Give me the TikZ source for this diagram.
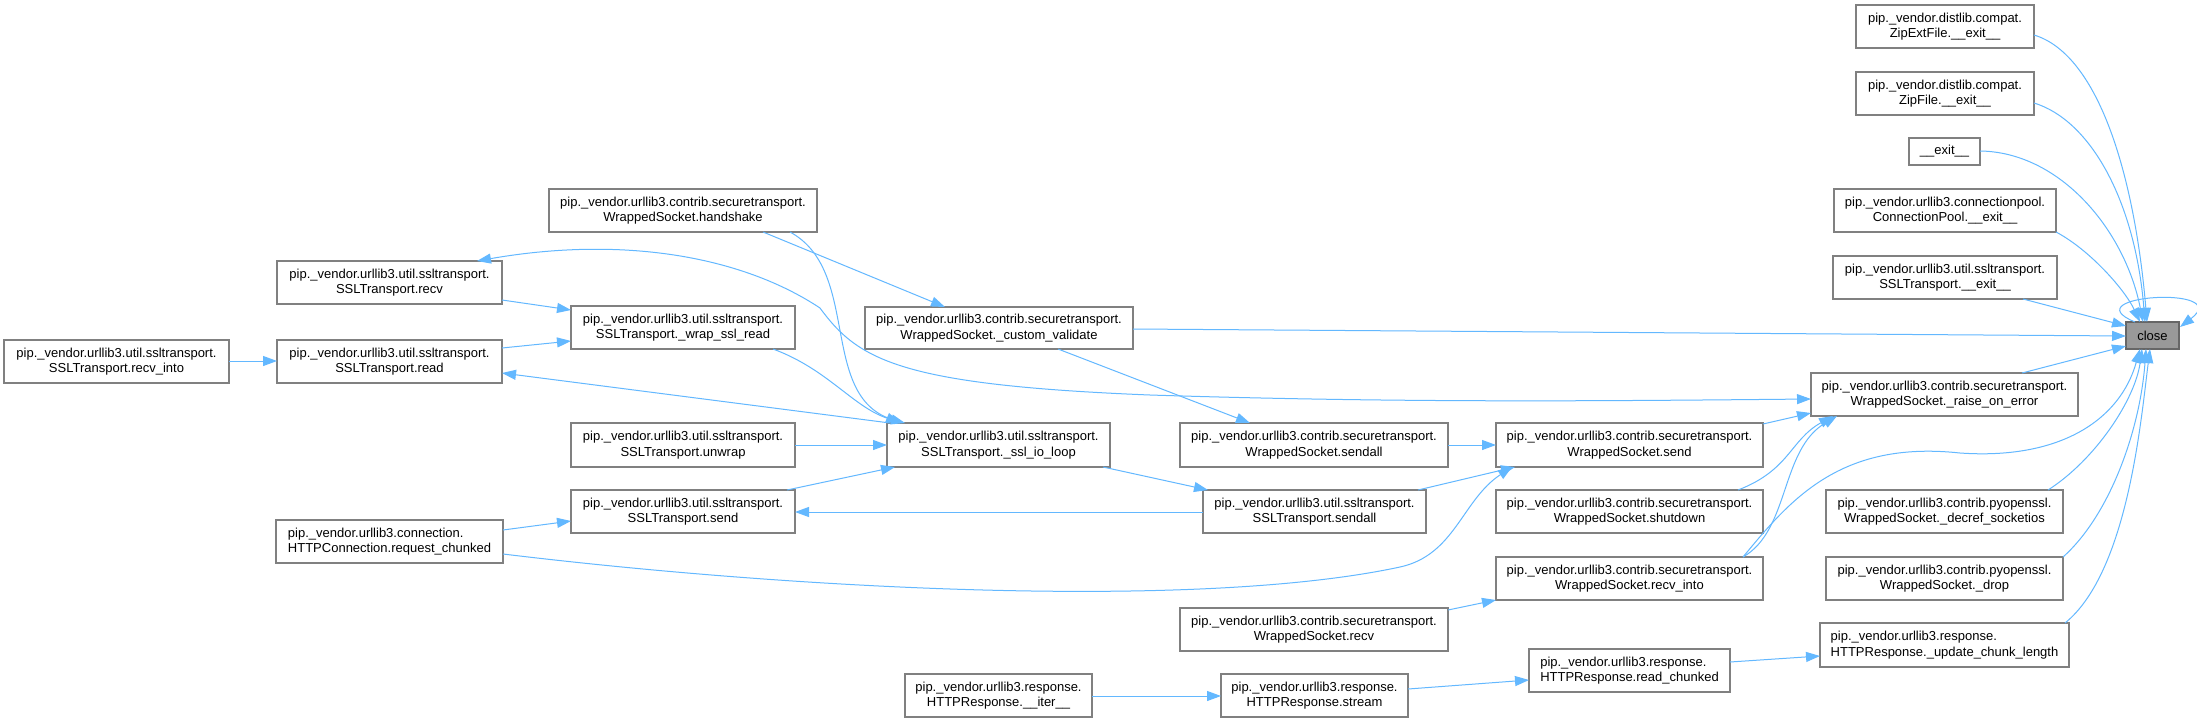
\documentclass[tikz,border=0pt]{standalone}
\usepackage{fontspec}
\setmainfont{Liberation Sans}
\usetikzlibrary{arrows.meta,calc}
\definecolor{edgec}{HTML}{63B8FF}
\definecolor{bordc}{HTML}{808080}
\definecolor{closefill}{HTML}{999999}
\definecolor{closebord}{HTML}{666666}
\tikzset{
  fnbox/.style={draw=bordc, line width=1.3pt, fill=white, rectangle, inner sep=0pt, outer sep=0pt,
    align=center, font=\fontsize{13}{15.7}\selectfont, text=black},
  leftbox/.style={fnbox, align=left},
  curbox/.style={fnbox, fill=closefill, draw=closebord},
  calledge/.style={draw=edgec, line width=1pt, -{Triangle[length=14pt,width=10pt]}},
  bothedge/.style={draw=edgec, line width=1pt, {Triangle[length=14pt,width=10pt]}-{Triangle[length=14pt,width=10pt]}},
}
\newcommand{\fn}[7][fnbox]{\node[#1, minimum width={#5-#3}, minimum height={#6-#4}, anchor=north west] (#2) at (#3,#4) {#7};}
\newcommand{\nw}[3]{($(#1.north west)+(#2,#3)$)}
\begin{document}
\begin{tikzpicture}[x=1pt,y=-1pt]
\fill[white] (0,0) rectangle (2197,723);
\useasboundingbox (0,0) rectangle (2197,723);
% nodes
\fn[curbox]{close}{2126}{322}{2179}{349}{close}
\fn{zipext}{1856}{5}{2034}{48}{pip.\_vendor.distlib.compat.\\ZipExtFile.\_\_exit\_\_}
\fn{zipfile}{1856}{72}{2034}{115}{pip.\_vendor.distlib.compat.\\ZipFile.\_\_exit\_\_}
\fn{exit}{1909}{138}{1980}{165}{\_\_exit\_\_}
\fn{cpool}{1834}{189}{2056}{232}{pip.\_vendor.urllib3.connectionpool.\\ConnectionPool.\_\_exit\_\_}
\fn{sslexit}{1833}{256}{2057}{299}{pip.\_vendor.urllib3.util.ssltransport.\\SSLTransport.\_\_exit\_\_}
\fn{raise}{1811}{373}{2078}{416}{pip.\_vendor.urllib3.contrib.securetransport.\\WrappedSocket.\_raise\_on\_error}
\fn{decref}{1826}{490}{2063}{533}{pip.\_vendor.urllib3.contrib.pyopenssl.\\WrappedSocket.\_decref\_socketios}
\fn{drop}{1826}{557}{2063}{600}{pip.\_vendor.urllib3.contrib.pyopenssl.\\WrappedSocket.\_drop}
\fn[leftbox]{update}{1820}{623}{2069}{667}{pip.\_vendor.urllib3.response.\\HTTPResponse.\_update\_chunk\_length}
\fn{customval}{865}{307}{1133}{349}{pip.\_vendor.urllib3.contrib.securetransport.\\WrappedSocket.\_custom\_validate}
\fn{wsend}{1496}{423}{1763}{467}{pip.\_vendor.urllib3.contrib.securetransport.\\WrappedSocket.send}
\fn{shutdown}{1496}{490}{1763}{533}{pip.\_vendor.urllib3.contrib.securetransport.\\WrappedSocket.shutdown}
\fn{wrecvinto}{1496}{557}{1763}{600}{pip.\_vendor.urllib3.contrib.securetransport.\\WrappedSocket.recv\_into}
\fn{wsendall}{1180}{423}{1448}{467}{pip.\_vendor.urllib3.contrib.securetransport.\\WrappedSocket.sendall}
\fn{ssendall}{1203}{490}{1426}{533}{pip.\_vendor.urllib3.util.ssltransport.\\SSLTransport.sendall}
\fn{wrecv}{1180}{608}{1448}{651}{pip.\_vendor.urllib3.contrib.securetransport.\\WrappedSocket.recv}
\fn[leftbox]{readchunked}{1529}{649}{1730}{692}{pip.\_vendor.urllib3.response.\\HTTPResponse.read\_chunked}
\fn{stream}{1221}{674}{1408}{717}{pip.\_vendor.urllib3.response.\\HTTPResponse.stream}
\fn{iter}{905}{674}{1092}{717}{pip.\_vendor.urllib3.response.\\HTTPResponse.\_\_iter\_\_}
\fn{sslio}{887}{423}{1110}{467}{pip.\_vendor.urllib3.util.ssltransport.\\SSLTransport.\_ssl\_io\_loop}
\fn{handshake}{549}{189}{817}{232}{pip.\_vendor.urllib3.contrib.securetransport.\\WrappedSocket.handshake}
\fn{wrapssl}{571}{306}{795}{349}{pip.\_vendor.urllib3.util.ssltransport.\\SSLTransport.\_wrap\_ssl\_read}
\fn{recv}{277}{261}{502}{304}{pip.\_vendor.urllib3.util.ssltransport.\\SSLTransport.recv}
\fn{read}{277}{340}{502}{383}{pip.\_vendor.urllib3.util.ssltransport.\\SSLTransport.read}
\fn{recvinto}{4}{340}{229}{383}{pip.\_vendor.urllib3.util.ssltransport.\\SSLTransport.recv\_into}
\fn{unwrap}{571}{423}{795}{467}{pip.\_vendor.urllib3.util.ssltransport.\\SSLTransport.unwrap}
\fn{ssend}{571}{490}{795}{533}{pip.\_vendor.urllib3.util.ssltransport.\\SSLTransport.send}
\fn[leftbox]{reqchunked}{276}{520}{503}{563}{pip.\_vendor.urllib3.connection.\\HTTPConnection.request\_chunked}
% edges into close
\draw[calledge] \nw{zipext}{178}{30} .. controls (2100,55) and (2135,180) .. \nw{close}{21}{0};
\draw[calledge] \nw{zipfile}{178}{31} .. controls (2090,120) and (2135,200) .. \nw{close}{19}{0};
\draw[calledge] \nw{exit}{71}{13} .. controls (2060,152) and (2125,230) .. \nw{close}{17}{0};
\draw[calledge] \nw{cpool}{222}{43} .. controls (2090,250) and (2125,290) .. \nw{close}{14}{0};
\draw[calledge] \nw{sslexit}{190}{43} -- \nw{close}{0}{4};
\draw[calledge] \nw{close}{9}{0} .. controls (2070,295) and (2235,285) .. \nw{close}{54}{5};
\draw[calledge] \nw{customval}{268}{22} -- \nw{close}{0}{14};
\draw[calledge] \nw{raise}{211}{0} -- \nw{close}{0}{24};
\draw[calledge] \nw{decref}{222}{0} .. controls (2095,460) and (2135,400) .. \nw{close}{16}{27};
\draw[calledge] \nw{drop}{237}{0} .. controls (2110,515) and (2140,430) .. \nw{close}{20}{27};
\draw[calledge] \nw{update}{245}{0} .. controls (2128,572) and (2141,419) .. \nw{close}{24}{27};
\draw[calledge] \nw{wrecvinto}{247}{0} .. controls (1790,500) and (1840,440) .. (1960,453)
   .. controls (2060,460) and (2120,420) .. \nw{close}{14}{27};
% recv <-> raise
\draw[bothedge] \nw{recv}{200}{0} .. controls (620,236) and (740,255) .. (820,308)
   .. controls (858,360) and (900,385) .. (1150,395)
   .. controls (1400,403) and (1600,401) .. \nw{raise}{0}{26};
% left part
\draw[calledge] \nw{handshake}{214}{43} -- \nw{customval}{80}{0};
\draw[calledge] \nw{handshake}{241}{43} .. controls (860,270) and (820,390) .. \nw{sslio}{13}{0};
\draw[calledge] \nw{wrapssl}{202}{43} .. controls (830,370) and (855,410) .. \nw{sslio}{18}{0};
\draw[calledge] \nw{sslio}{3}{0} -- \nw{read}{225}{33};
\draw[calledge] \nw{recv}{225}{39} -- \nw{wrapssl}{0}{4};
\draw[calledge] \nw{read}{225}{8} -- \nw{wrapssl}{0}{35};
\draw[calledge] \nw{recvinto}{225}{21} -- \nw{read}{0}{21};
\draw[calledge] \nw{unwrap}{224}{22} -- \nw{sslio}{0}{22};
\draw[calledge] \nw{ssend}{216}{0} -- \nw{sslio}{8}{44};
\draw[calledge] \nw{sslio}{216}{44} -- \nw{ssendall}{5}{0};
\draw[calledge] \nw{customval}{193}{42} -- \nw{wsendall}{70}{0};
\draw[calledge] \nw{ssendall}{0}{22} -- \nw{ssend}{224}{22};
\draw[calledge] \nw{reqchunked}{227}{10} -- \nw{ssend}{0}{31};
\draw[calledge] \nw{reqchunked}{227}{34} .. controls (800,590) and (1200,610) .. (1400,567)
   .. controls (1455,555) and (1462,500) .. \nw{wsend}{16}{44};
\draw[calledge] \nw{wsendall}{268}{22} -- \nw{wsend}{0}{22};
\draw[calledge] \nw{ssendall}{215}{0} -- \nw{wsend}{19}{44};
\draw[calledge] \nw{wsend}{267}{1} -- \nw{raise}{0}{40};
\draw[calledge] \nw{shutdown}{242}{0} .. controls (1790,470) and (1790,440) .. \nw{raise}{22}{43};
\draw[calledge] \nw{wrecvinto}{247}{0} .. controls (1790,530) and (1780,450) .. \nw{raise}{26}{43};
\draw[calledge] \nw{wrecv}{268}{2} -- \nw{wrecvinto}{0}{43};
\draw[calledge] \nw{iter}{187}{22} -- \nw{stream}{0}{22};
\draw[calledge] \nw{stream}{187}{15} -- \nw{readchunked}{0}{31};
\draw[calledge] \nw{readchunked}{201}{13} -- \nw{update}{0}{33};
\end{tikzpicture}
\end{document}
